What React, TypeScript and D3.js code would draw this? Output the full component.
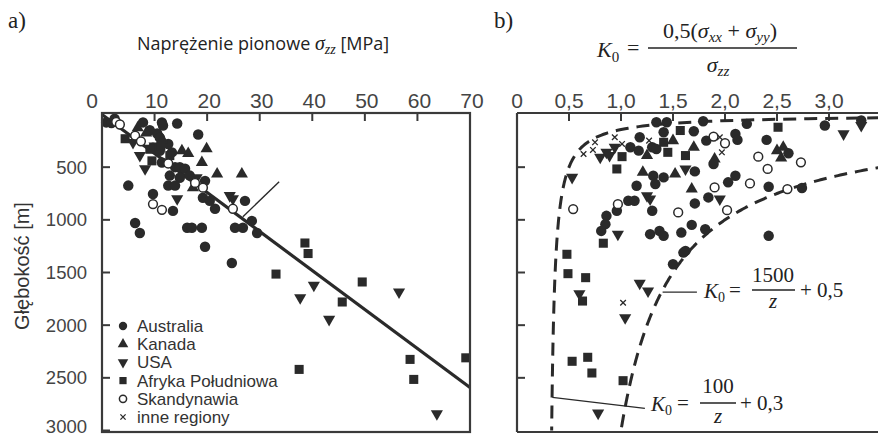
import React from "react";
import * as d3 from "d3";

// ---- panel a) vertical stress [MPa] vs depth [m]
const sigmaTicks = [0, 10, 20, 30, 40, 50, 60, 70];
const depthTicks = [500, 1000, 1500, 2000, 2500, 3000];
const k0Ticks = [0, 0.5, 1.0, 1.5, 2.0, 2.5, 3.0];

const aAustralia: [number, number][] = [
  [0.8, 75], [1.8, 80], [2.4, 40], [7.8, 75], [11.4, 75], [11.6, 105], [14.3, 85],
  [9.1, 150], [10.5, 180], [11, 220], [18.3, 190], [12.6, 280], [9.7, 315], [11, 345],
  [13.3, 360], [10.4, 327], [11.4, 455], [13.9, 500], [14.8, 500], [15.8, 515],
  [12.9, 580], [14.8, 600], [16.7, 580], [19.6, 630], [12.6, 675], [13.9, 675],
  [5.0, 675], [9.7, 755], [19.2, 790], [20.5, 820], [13.5, 915], [21.5, 895],
  [27.2, 820], [6.3, 1030], [7.2, 1125], [16.2, 1075], [17.1, 1075], [19.0, 1075],
  [25.3, 1075], [26.8, 1075], [28.5, 1010], [29.5, 1125], [19.6, 1255], [24.7, 1410],
];
const aKanada: [number, number][] = [
  [6.8, 125], [8.4, 175], [11.5, 240], [15.2, 345], [16.4, 370], [19.9, 325],
  [19.0, 455], [21.9, 565], [26.6, 565], [17.3, 695],
];
const aUSA: [number, number][] = [
  [5.9, 265], [7.2, 390], [8.2, 515], [10.0, 300], [14.3, 800], [18.0, 600],
  [24.3, 770], [24.9, 800], [40.3, 1620], [37.7, 1740], [43.2, 1945], [56.5, 1685],
  [63.7, 2840],
];
const aAfryka: [number, number][] = [
  [4.4, 230], [9.1, 330], [9.5, 440], [11.2, 300], [12.9, 390], [33.1, 1515],
  [38.6, 1220], [39.2, 1320], [49.5, 1590], [45.7, 1780], [58.6, 2325], [59.3, 2515],
  [69.2, 2310], [37.5, 2420],
];
const aSkandynawia: [number, number][] = [
  [2.7, 70], [3.4, 95], [6.3, 200], [7.4, 255], [12.6, 465], [17.7, 650],
  [19.2, 695], [9.7, 850], [11.4, 905], [24.9, 895],
];
const aInne: [number, number][] = [];

// trend line sigma = gradient * z, and the thin pointer line
const gradient = 0.027;
const trendDepth = [0, 70 / gradient];
const pointerA: [number, number][] = [[26.8, 971], [33.7, 638]];

// ---- panel b) K0 vs depth
const bAustralia: [number, number][] = [
  [1.34, 73], [1.44, 73], [1.41, 168], [1.18, 216], [1.09, 311], [1.17, 343],
  [1.30, 311], [1.34, 327], [1.31, 581], [1.41, 597], [1.33, 660], [1.15, 676],
  [1.07, 819], [1.13, 819], [0.96, 914], [0.86, 962], [0.85, 1041], [0.81, 1105],
  [1.30, 914], [1.28, 1136], [1.37, 1105], [1.41, 1152], [1.58, 1121], [1.62, 1295],
  [1.50, 1422], [1.60, 1311], [1.79, 64], [1.70, 159], [1.82, 248], [2.10, 184],
  [2.12, 241], [2.21, 89], [2.40, 241], [2.96, 105], [3.31, 57], [1.71, 540],
  [1.89, 470], [2.61, 368], [2.10, 581], [2.03, 644], [1.84, 787], [1.71, 844],
  [2.42, 686], [2.74, 698], [1.68, 1048], [1.81, 1089], [2.42, 1152],
];
const bKanada: [number, number][] = [
  [1.21, 549], [1.25, 390], [1.50, 248], [1.52, 565], [1.70, 311], [2.50, 343],
  [2.56, 311], [2.54, 413], [1.68, 708], [1.90, 422],
];
const bUSA: [number, number][] = [
  [0.53, 597], [0.80, 406], [0.86, 359], [0.89, 390], [0.94, 311], [1.25, 771],
  [1.28, 803], [0.97, 1136], [1.62, 517], [0.60, 1702], [1.18, 1603], [1.26, 1676],
  [1.04, 1930], [0.78, 2835], [3.14, 184], [3.31, 105], [1.95, 803],
];
const bAfryka: [number, number][] = [
  [1.01, 400], [0.96, 517], [1.41, 264], [1.45, 359], [1.57, 152], [1.62, 390],
  [0.83, 1222], [0.48, 1327], [0.49, 1511], [0.66, 1549], [0.63, 1771], [0.53, 2343],
  [0.68, 2305], [0.72, 2454], [1.02, 2527], [2.51, 121],
];
const bSkandynawia: [number, number][] = [
  [0.54, 898], [0.97, 851], [1.55, 930], [1.89, 210], [2.0, 273], [2.32, 400],
  [2.41, 517], [2.73, 454], [1.90, 692], [2.24, 654], [2.60, 708], [2.02, 908],
];
const bInne: [number, number][] = [
  [0.64, 375], [0.73, 336], [0.75, 264], [0.94, 216], [1.01, 279], [1.27, 248],
  [1.02, 1787], [1.95, 216], [1.97, 359],
];

// bounds K0 = a / z + b
const lowerBound = { a: 100, b: 0.3 };
const upperBound = { a: 1500, b: 0.5 };
const leaderUpper: [number, number][] = [[1.40, 1686], [1.73, 1686]];
const leaderLower: [number, number][] = [[0.34, 2686], [1.23, 2790]];

const legendNames = ["Australia", "Kanada", "USA", "Afryka Południowa", "Skandynawia", "inne regiony"];

const INK = "#2a2a2a";
const FRAME = "#3a3a3a";
const SANS = "Liberation Sans, Arial, sans-serif";
const SERIF = "Liberation Serif, Times New Roman, serif";

const circlePath = d3.symbol().type(d3.symbolCircle).size(86)()!;
const trianglePath = d3.symbol().type(d3.symbolTriangle).size(64)()!;
const squarePath = d3.symbol().type(d3.symbolSquare).size(82)()!;
const circleSmall = d3.symbol().type(d3.symbolCircle).size(55)()!;
const triangleSmall = d3.symbol().type(d3.symbolTriangle).size(48)()!;
const squareSmall = d3.symbol().type(d3.symbolSquare).size(52)()!;

function Marker({ kind, x, y, small }: { kind: number; x: number; y: number; small?: boolean }) {
  const t = `translate(${x},${y})`;
  if (kind === 0) return <path d={small ? circleSmall : circlePath} transform={t} fill={INK} />;
  if (kind === 1) return <path d={small ? triangleSmall : trianglePath} transform={t} fill={INK} />;
  if (kind === 2) return <path d={small ? triangleSmall : trianglePath} transform={`${t} rotate(180)`} fill={INK} />;
  if (kind === 3) return <path d={small ? squareSmall : squarePath} transform={t} fill={INK} />;
  if (kind === 4)
    return <circle cx={x} cy={y} r={small ? 3.6 : 4.4} fill="#fff" stroke={INK} strokeWidth={1.5} />;
  const s = small ? 2.6 : 2.8;
  return (
    <path d={`M${-s},${-s}L${s},${s}M${-s},${s}L${s},${-s}`} transform={t} stroke={INK} strokeWidth={1.3} fill="none" />
  );
}

export default function App() {
  const xA = d3.scaleLinear().domain([0, 70]).range([102, 470]);
  const y = d3.scaleLinear().domain([0, 3000]).range([114.5, 430.5]);
  const xB = d3.scaleLinear().domain([0, 3.5]).range([517, 881]);
  const top = 113;
  const bottom = 432;

  const aSeries = [aAustralia, aKanada, aUSA, aAfryka, aSkandynawia, aInne];
  const bSeries = [bAustralia, bKanada, bUSA, bAfryka, bSkandynawia, bInne];

  const depths = d3.range(25, 3001, 5);
  const boundLine = (p: { a: number; b: number }) =>
    d3.line<number>().x((z) => xB(p.a / z + p.b)).y((z) => y(z))(depths) ?? "";

  const trend = d3.line<number>().x((z) => xA(gradient * z)).y((z) => y(z))(trendDepth) ?? "";
  const seg = (sx: d3.ScaleLinear<number, number>, pts: [number, number][]) =>
    d3.line<[number, number]>().x((d) => sx(d[0])).y((d) => y(d[1]))(pts) ?? "";

  return (
    <div style={{ position: "absolute", left: 0, top: 0 }}>
      <svg width={878} height={438} style={{ display: "block", background: "#fff" }}>
        <defs>
          <clipPath id="clipB">
            <rect x={517} y={top} width={400} height={bottom - top} />
          </clipPath>
        </defs>

        {/* headers */}
        <text x={8} y={28} fontFamily={SERIF} fontSize={23} fill="#222">a)</text>
        <text x={494} y={28} fontFamily={SERIF} fontSize={23} fill="#222">b)</text>
        <text x={137} y={50} fontFamily="Open Sans, sans-serif" fontSize={18} fill="#222">
          Naprężenie pionowe{" "}
          <tspan fontFamily={SERIF} fontStyle="italic" fontSize={20}>σ</tspan>
          <tspan fontFamily={SERIF} fontStyle="italic" fontSize={14} dy={4}>zz</tspan>
          <tspan dy={-4}> [MPa]</tspan>
        </text>

        {/* top formula */}
        <g fontFamily={SERIF} fill="#222">
          <text x={597} y={57} fontSize={22} fontStyle="italic">K<tspan fontSize={15} fontStyle="normal" dy={5}>0</tspan></text>
          <text x={627} y={55} fontSize={22}>=</text>
          <text x={720} y={38} fontSize={22} textAnchor="middle">
            0,5(<tspan fontStyle="italic">σ</tspan><tspan fontStyle="italic" fontSize={15} dy={4}>xx</tspan>
            <tspan dy={-4}> + </tspan><tspan fontStyle="italic">σ</tspan><tspan fontStyle="italic" fontSize={15} dy={4}>yy</tspan><tspan dy={-4}>)</tspan>
          </text>
          <line x1={648} x2={797} y1={48} y2={48} stroke="#222" strokeWidth={1.5} />
          <text x={718} y={72} fontSize={22} textAnchor="middle">
            <tspan fontStyle="italic">σ</tspan><tspan fontStyle="italic" fontSize={15} dy={4}>zz</tspan>
          </text>
        </g>

        {/* y axis label */}
        <text transform="translate(29,266) rotate(-90)" textAnchor="middle" fontFamily={SANS} fontSize={20} fill="#333">
          Głębokość [m]
        </text>

        {/* ---- panel a ---- */}
        <g>
          {sigmaTicks.map((t) => (
            <g key={t}>
              <line x1={xA(t)} x2={xA(t)} y1={top} y2={top + 8} stroke={FRAME} strokeWidth={2} />
              <text x={xA(t) + (t === 0 ? -10 : 2)} y={108} textAnchor="middle" fontFamily={SANS} fontSize={21} fill="#444">
                {t}
              </text>
            </g>
          ))}
          {depthTicks.map((t) => (
            <g key={t}>
              <line x1={102} x2={110} y1={y(t)} y2={y(t)} stroke={FRAME} strokeWidth={2} />
              <text x={87} y={Math.min(y(t) + 6.5, 433)} textAnchor="end" fontFamily={SANS} fontSize={18.5} fill="#444">
                {t}
              </text>
            </g>
          ))}
          <path d={trend} stroke={INK} strokeWidth={3.2} fill="none" />
          <path d={seg(xA, pointerA)} stroke={INK} strokeWidth={1.4} fill="none" />
          {aSeries.map((s, k) =>
            s.map((d, i) => <Marker key={`a${k}-${i}`} kind={k} x={xA(d[0])} y={y(d[1])} />)
          )}
          {legendNames.map((n, i) => (
            <g key={n}>
              <Marker kind={i} x={123} y={326 + i * 18.2} small />
              <text x={137} y={332 + i * 18.2} fontFamily={SANS} fontSize={17} fill="#333">{n}</text>
            </g>
          ))}
          <rect x={102} y={top} width={368} height={bottom - top} fill="none" stroke={FRAME} strokeWidth={2.2} />
        </g>

        {/* ---- panel b ---- */}
        <g>
          {k0Ticks.map((t) => (
            <g key={t}>
              <line x1={xB(t)} x2={xB(t)} y1={top} y2={top + 8} stroke={FRAME} strokeWidth={2} />
              <text x={xB(t)} y={108} textAnchor="middle" fontFamily={SANS} fontSize={21} fill="#444">
                {t === 0 ? "0" : d3.format(".1f")(t).replace(".", ",")}
              </text>
            </g>
          ))}
          {depthTicks.slice(0, 5).map((t) => (
            <line key={t} x1={517} x2={525} y1={y(t)} y2={y(t)} stroke={FRAME} strokeWidth={2} />
          ))}
          <g clipPath="url(#clipB)">
            <path d={boundLine(lowerBound)} stroke={INK} strokeWidth={3} strokeDasharray="13 8" fill="none" />
            <path d={boundLine(upperBound)} stroke={INK} strokeWidth={3} strokeDasharray="13 8" fill="none" />
            {bSeries.map((s, k) =>
              s.map((d, i) => <Marker key={`b${k}-${i}`} kind={k} x={xB(d[0])} y={y(d[1])} />)
            )}
          </g>
          <path d={seg(xB, leaderUpper)} stroke={INK} strokeWidth={1.4} fill="none" />
          <path d={seg(xB, leaderLower)} stroke={INK} strokeWidth={1.4} fill="none" />

          {/* bound labels */}
          <g fontFamily={SERIF} fill="#222">
            <text x={704} y={298} fontSize={21} fontStyle="italic">K<tspan fontSize={14} fontStyle="normal" dy={4}>0</tspan></text>
            <text x={729} y={297} fontSize={21}>=</text>
            <text x={773} y={282} fontSize={21} textAnchor="middle">1500</text>
            <line x1={752} x2={795} y1={290} y2={290} stroke="#222" strokeWidth={1.5} />
            <text x={773} y={308} fontSize={21} fontStyle="italic" textAnchor="middle">z</text>
            <text x={800} y={297} fontSize={21}>+ 0,5</text>

            <text x={651} y={411} fontSize={21} fontStyle="italic">K<tspan fontSize={14} fontStyle="normal" dy={4}>0</tspan></text>
            <text x={677} y={410} fontSize={21}>=</text>
            <text x={718} y={393} fontSize={21} textAnchor="middle">100</text>
            <line x1={700} x2={736} y1={403} y2={403} stroke="#222" strokeWidth={1.5} />
            <text x={718} y={423} fontSize={21} fontStyle="italic" textAnchor="middle">z</text>
            <text x={740} y={410} fontSize={21}>+ 0,3</text>
          </g>

          <line x1={517} x2={878} y1={top} y2={top} stroke={FRAME} strokeWidth={2.2} />
          <line x1={517} x2={878} y1={bottom} y2={bottom} stroke={FRAME} strokeWidth={2.2} />
          <line x1={517} x2={517} y1={top} y2={bottom} stroke={FRAME} strokeWidth={2.2} />
        </g>
      </svg>
    </div>
  );
}
